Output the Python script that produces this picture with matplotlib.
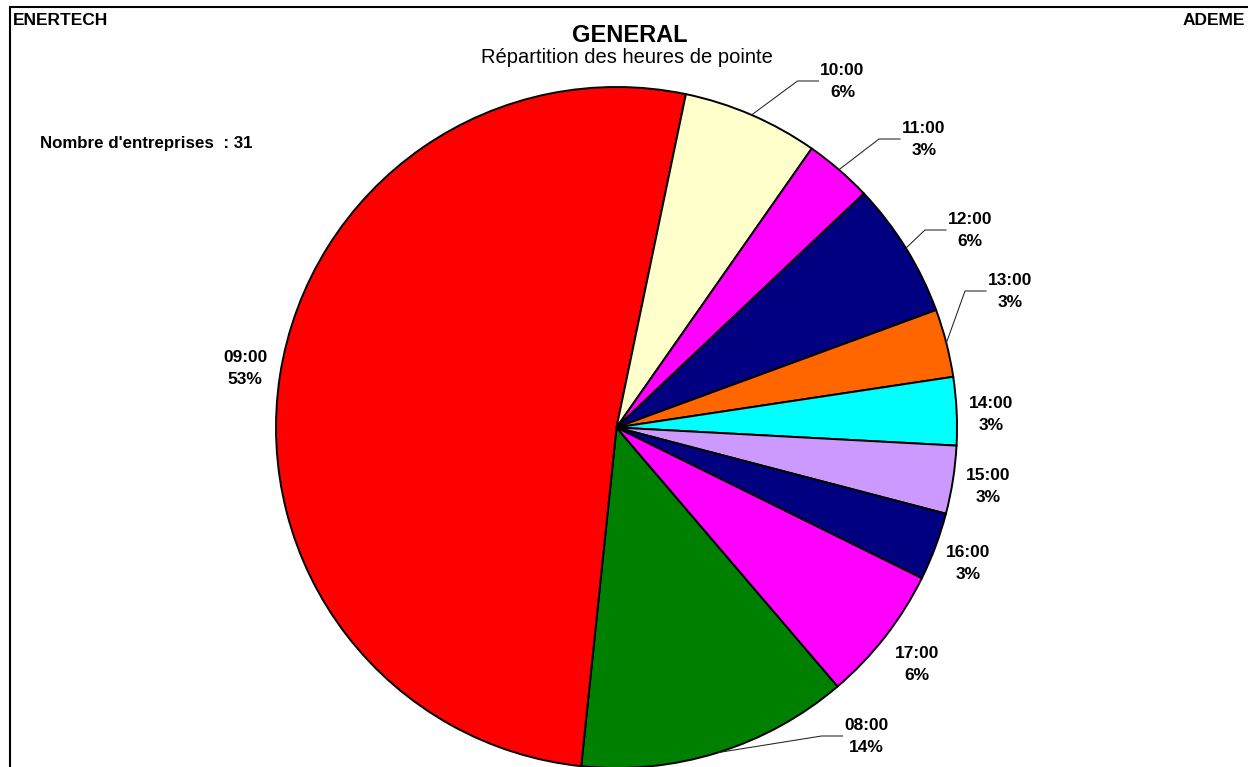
import matplotlib
matplotlib.use('Agg')
import matplotlib.pyplot as plt
import numpy as np

plt.rcParams['font.family'] = ['Liberation Sans', 'DejaVu Sans']

# donnees (31 entreprises)
heures = ['08:00', '09:00', '10:00', '11:00', '12:00',
          '13:00', '14:00', '15:00', '16:00', '17:00']
nb_entreprises = [4, 16, 2, 1, 2, 1, 1, 1, 1, 2]
pourcentages = ['14%', '53%', '6%', '3%', '6%', '3%', '3%', '3%', '3%', '6%']
couleurs = ['#008000', '#FF0000', '#FFFFCC', '#FF00FF', '#000080',
            '#FF6600', '#00FFFF', '#CC99FF', '#000080', '#FF00FF']
total = sum(nb_entreprises)

W, H = 1248, 767
# position des etiquettes en pixels (centre x, ligne de base de la 1ere ligne)
pos_labels = [(866.5, 730), (245, 362), (842.5, 75), (924, 133), (970, 224),
              (1010, 285), (991.5, 408), (988, 480), (968, 557), (917, 658)]
avec_trait = [True, False, True, True, True, True, False, False, False, False]

fig = plt.figure(figsize=(W / 100, H / 100), dpi=100)
ax = fig.add_axes([0, 0, 1, 1])

cx, cy, r = 616.5, H - 427.5, 340.5
wedges, _ = ax.pie(nb_entreprises, colors=couleurs, startangle=310.5,
                   counterclock=False, center=(cx, cy), radius=r,
                   wedgeprops=dict(edgecolor='black', linewidth=1.4))
ax.set_xlim(0, W)
ax.set_ylim(0, H)
ax.set_axis_off()

# etiquettes + traits de rappel
for i, w in enumerate(wedges):
    x, y = pos_labels[i]
    ax.text(x, H - y, heures[i], ha='center', va='baseline',
            fontsize=12.5, fontweight='bold')
    ax.text(x, H - y - 22, pourcentages[i], ha='center', va='baseline',
            fontsize=12.5, fontweight='bold')
    if avec_trait[i]:
        ang = np.deg2rad((w.theta1 + w.theta2) / 2)
        x0 = cx + r * np.cos(ang)
        y0 = cy + r * np.sin(ang)
        x_fin = x - 24
        x_coude = x_fin - 21
        y_trait = H - (y + 6)
        ax.plot([x0, x_coude, x_fin], [y0, y_trait, y_trait],
                color='#222222', lw=0.75)

# cadre
ax.plot([10.3, 10.3, W], [0, H - 7, H - 7], color='black', lw=1.5,
        solid_joinstyle='miter', clip_on=False)

# textes
ax.text(13.3, H - 25, 'ENERTECH', ha='left', va='baseline',
        fontsize=12.5, fontweight='bold')
ax.text(1245, H - 25, 'ADEME', ha='right', va='baseline',
        fontsize=12.5, fontweight='bold')
ax.text(629.5, H - 42, 'GENERAL', ha='center', va='baseline',
        fontsize=17, fontweight='bold')
ax.text(627, H - 63, 'Répartition des heures de pointe', ha='center',
        va='baseline', fontsize=14.5)
ax.text(40, H - 148, "Nombre d'entreprises  : %d" % total, ha='left',
        va='baseline', fontsize=12.2, fontweight='bold')

plt.savefig('out.png', dpi=100)
